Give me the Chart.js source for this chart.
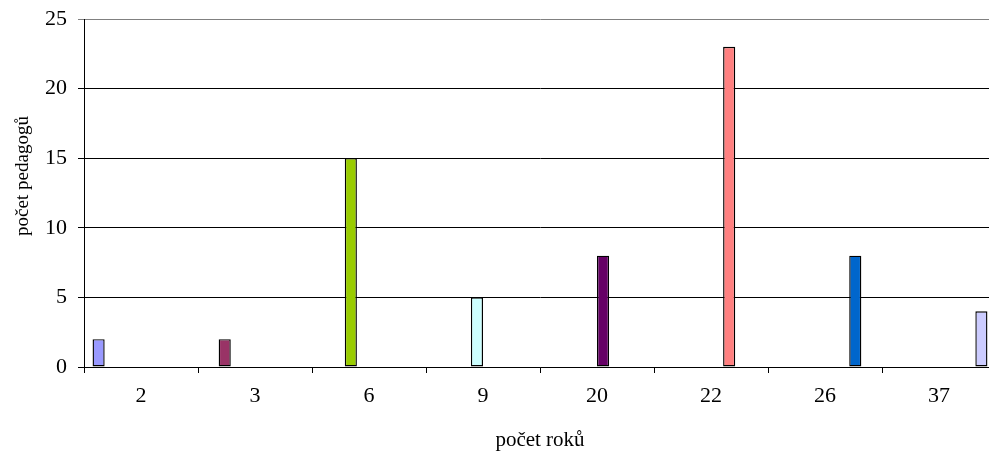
<!DOCTYPE html>
<html>
<head>
<meta charset="utf-8">
<script src="https://cdn.jsdelivr.net/npm/chart.js@4"></script>
<style>
html,body{margin:0;padding:0;overflow:hidden;background:#fff;width:989px;height:456px;}
canvas{display:block;}
</style>
</head>
<body>
<canvas id="c" width="1000" height="456"></canvas>
<script>
const categories = ['2', '3', '6', '9', '20', '22', '26', '37'];
const counts = [2, 2, 15, 5, 8, 23, 8, 4];
const colors = ['#9999FF', '#993366', '#99CC00', '#CCFFFF', '#660066', '#FF8080', '#0066CC', '#CCCCFF'];
const yMin = 0, yMax = 25, yStep = 5;
const xTitle = 'počet roků';
const yTitle = 'počet pedagogů';

const FONT = "'Liberation Serif', 'Times New Roman', serif";

const datasets = categories.map((c, i) => ({
  label: c,
  data: categories.map((_, j) => (j === i ? counts[i] : null)),
  backgroundColor: colors[i],
  borderColor: '#000',
  borderWidth: 1.4,
  borderSkipped: false,
  categoryPercentage: 0.85,
  barPercentage: 1.0
}));

const yTitlePlugin = {
  id: 'yTitle',
  afterDraw(chart) {
    const ctx = chart.ctx;
    ctx.save();
    ctx.translate(23, 176);
    ctx.rotate(-Math.PI / 2);
    ctx.font = "19px " + FONT;
    ctx.fillStyle = '#000';
    ctx.textAlign = 'center';
    ctx.textBaseline = 'middle';
    ctx.fillText(yTitle, 0, 0);
    ctx.restore();
  }
};

new Chart(document.getElementById('c'), {
  type: 'bar',
  data: { labels: categories, datasets },
  plugins: [yTitlePlugin],
  options: {
    responsive: false,
    animation: false,
    layout: { padding: { top: 19, right: 4, left: 0, bottom: 0 } },
    plugins: { legend: { display: false }, tooltip: { enabled: false } },
    scales: {
      x: {
        grid: { offset: true, drawOnChartArea: false, drawTicks: true, tickLength: 6, color: '#000' },
        border: { display: true, color: '#000', width: 1 },
        ticks: { color: '#000', font: { family: FONT, size: 22 }, padding: 10, maxRotation: 0 },
        title: { display: true, text: xTitle, color: '#000', font: { family: FONT, size: 21 }, padding: { top: 10, bottom: 3 } },
        afterFit: s => { s.height = 89; s.paddingLeft = 0; s.paddingRight = 0; }
      },
      y: {
        min: yMin, max: yMax,
        ticks: { stepSize: yStep, color: '#000', font: { family: FONT, size: 22 }, padding: 11 },
        grid: { color: ctx => (ctx.tick && ctx.tick.value === yMax ? '#808080' : '#000'), tickLength: 6 },
        border: { display: true, color: '#000', width: 1 },
        afterFit: s => { s.width = 84; s.paddingTop = 0; s.paddingBottom = 0; }
      }
    }
  }
});
</script>
</body>
</html>
